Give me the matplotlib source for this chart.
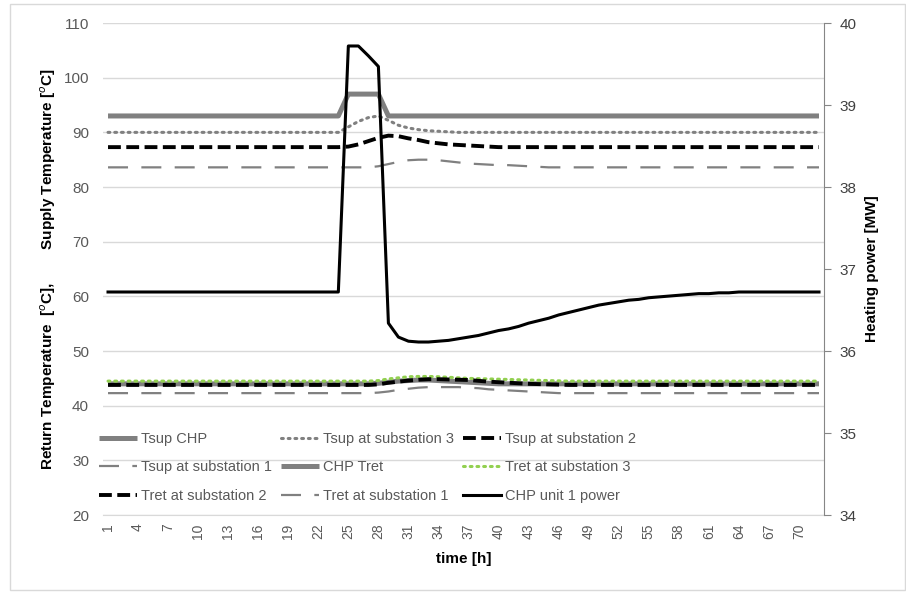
import matplotlib
matplotlib.use('Agg')
import matplotlib.pyplot as plt
from matplotlib.patches import Rectangle
from matplotlib import font_manager as fm

names = {f.name for f in fm.fontManager.ttflist}
FONT = 'Liberation Sans Narrow' if 'Liberation Sans Narrow' in names else 'Liberation Sans'
plt.rcParams['font.family'] = [FONT, 'DejaVu Sans']

GREY = '#808080'
GREEN = '#92d050'
TXT = '#595959'

hours = list(range(1, 73))

tsup_chp = [93] * 24 + [97, 97, 97, 97] + [93] * 44
tsup_s3 = [90] * 24 + [91.0, 92.0, 92.7, 93.0, 92.2, 91.3, 90.8, 90.5, 90.3, 90.2, 90.1] + [90] * 37
tsup_s2 = [87.3] * 24 + [87.4, 87.8, 88.4, 89.0, 89.4, 89.3, 88.9, 88.6, 88.2, 88.0, 87.8,
                         87.7, 87.6, 87.5, 87.4] + [87.3] * 33
tsup_s1 = [83.6] * 27 + [83.8, 84.2, 84.6, 84.9, 85.0, 85.0, 84.9, 84.7, 84.5, 84.3, 84.2,
                         84.1, 84.0, 84.0, 83.9, 83.8, 83.7] + [83.6] * 28
tret_chp = [44.0] * 27 + [44.1, 44.3, 44.5, 44.6, 44.7, 44.7, 44.6, 44.5, 44.4, 44.3, 44.2,
                          44.1] + [44.0] * 33
tret_s3 = [44.5] * 27 + [44.6, 44.9, 45.1, 45.3, 45.35, 45.35, 45.3, 45.2, 45.1, 45.0, 44.95,
                         44.9, 44.85, 44.8, 44.75, 44.7, 44.65, 44.6, 44.55] + [44.5] * 26
tret_s2 = [43.8] * 27 + [43.9, 44.2, 44.4, 44.6, 44.75, 44.85, 44.85, 44.8, 44.75, 44.7, 44.55,
                         44.4, 44.3, 44.2, 44.1, 44.0, 43.95, 43.9, 43.85] + [43.8] * 26
tret_s1 = [42.3] * 27 + [42.4, 42.6, 42.9, 43.1, 43.3, 43.4, 43.4, 43.4, 43.4, 43.3, 43.2,
                         43.0, 42.9, 42.8, 42.7, 42.6, 42.5, 42.4] + [42.3] * 27
power = [36.72] * 24 + [39.72, 39.72, 39.6, 39.47, 36.34, 36.17, 36.12, 36.11, 36.11, 36.12,
                        36.13, 36.15, 36.17, 36.19, 36.22, 36.25, 36.27, 36.30, 36.34, 36.37,
                        36.40, 36.44, 36.47, 36.50, 36.53, 36.56, 36.58, 36.60, 36.62, 36.63,
                        36.65, 36.66, 36.67, 36.68, 36.69, 36.70, 36.70, 36.71, 36.71] + [36.72] * 9

fig = plt.figure(figsize=(9.06, 5.92), dpi=100)
fig.patches.append(Rectangle((0.011, 0.003), 0.988, 0.99, transform=fig.transFigure,
                             fill=False, edgecolor='#d9d9d9', linewidth=1))
ax = fig.add_axes([0.1137, 0.130, 0.7958, 0.8311])
ax2 = ax.twinx()

l_chp, = ax.plot(hours, tsup_chp, color=GREY, lw=3.6, label='Tsup CHP', solid_capstyle='butt')
l_s3, = ax.plot(hours, tsup_s3, color=GREY, lw=2.2, linestyle=(0, (0.6, 1.6)),
                dash_capstyle='round', label='Tsup at substation 3')
l_s2, = ax.plot(hours, tsup_s2, color='black', lw=2.8, linestyle=(0, (3.3, 1.4)),
                label='Tsup at substation 2')
l_s1, = ax.plot(hours, tsup_s1, color=GREY, lw=1.6, linestyle=(0, (9, 6)),
                label='Tsup at substation 1')
r_chp, = ax.plot(hours, tret_chp, color=GREY, lw=3.6, label='CHP Tret', solid_capstyle='butt')
r_s3, = ax.plot(hours, tret_s3, color=GREEN, lw=2.2, linestyle=(0, (0.6, 1.6)),
                dash_capstyle='round', label='Tret at substation 3')
r_s2, = ax.plot(hours, tret_s2, color='black', lw=2.8, linestyle=(0, (3.3, 1.4)),
                label='Tret at substation 2')
r_s1, = ax.plot(hours, tret_s1, color=GREY, lw=1.6, linestyle=(0, (9, 6)),
                label='Tret at substation 1')
p_line, = ax2.plot(hours, power, color='black', lw=2.2, label='CHP unit 1 power')

ax.set_xlim(0.5, 72.5)
ax.set_ylim(20, 110)
ax.set_yticks(range(20, 111, 10))
ax.set_xticks(hours[::3])
ax.set_xticklabels([str(h) for h in hours[::3]], rotation=90)
ax2.set_ylim(34, 40)
ax2.set_yticks(range(34, 41))

ax.grid(axis='y', color='#d9d9d9', lw=1)
ax.set_axisbelow(True)
for s in ['top', 'left', 'right']:
    ax.spines[s].set_visible(False)
ax.spines['bottom'].set_color('#d9d9d9')
for s in ['top', 'left', 'bottom']:
    ax2.spines[s].set_visible(False)
ax2.spines['right'].set_color('#868686')

ax.tick_params(axis='y', length=0, labelsize=11, colors=TXT, pad=10)
ax.tick_params(axis='x', length=0, labelsize=10, colors=TXT, pad=6)
ax2.tick_params(axis='y', length=5, color='#868686', labelsize=11, labelcolor='#404040', pad=6)

ax.set_ylabel('Return Temperature  [$^{o}$C],        Supply Temperature [$^{o}$C]',
              fontweight='bold', fontsize=11, labelpad=4)
ax2.set_ylabel('Heating power [MW]', fontweight='bold', fontsize=11, labelpad=6)
ax.set_xlabel('time [h]', fontweight='bold', fontsize=11, labelpad=9)

handles = [l_chp, l_s1, r_s2, l_s3, r_chp, r_s1, l_s2, r_s3, p_line]
leg = ax.legend(handles=handles, labels=[h.get_label() for h in handles], ncol=3,
                loc='lower left', bbox_to_anchor=(-0.006, 0.025),
                frameon=False, fontsize=10.5, handlelength=2.6, handletextpad=0.3,
                columnspacing=0.6, labelspacing=0.98, borderaxespad=0, borderpad=0)
for t in leg.get_texts():
    t.set_color(TXT)

fig.savefig('out.png', dpi=100)
